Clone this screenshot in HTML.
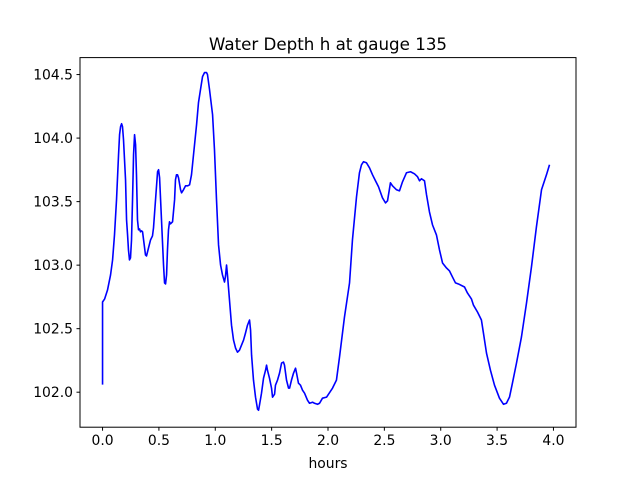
<!DOCTYPE html>
<html><head><meta charset="utf-8"><style>
body{margin:0;background:#fff;width:640px;height:480px;overflow:hidden}
svg{font-family:"DejaVu Sans","Liberation Sans",sans-serif}
</style></head><body>
<svg id="chart" width="640" height="480">
<rect x="0" y="0" width="640" height="480" fill="#fff"/>
<text x="328" y="50" text-anchor="middle" font-size="16.7">Water Depth h at gauge 135</text>
<g id="plot"></g>
<rect x="80" y="57.6" width="496" height="369.6" fill="none" stroke="#000" stroke-width="1"/>
<text x="328" y="468" text-anchor="middle" font-size="13.9">hours</text>
</svg>
<script>
const times=[0,0,.018,.044,.071,.089,.106,.124,.142,.151,.160,.169,.177,.186,.204,.213,.222,.230,.239,.248,.257,.266,.275,.284,.293,.301,.310,.319,.328,.337,.346,.355,.364,.381,.390,.408,.426,.443,.452,.470,.488,.497,.506,.523,.541,.550,.559,.568,.576,.585,.594,.603,.621,.639,.647,.656,.665,.674,.692,.701,.718,.736,.754,.772,.789,.807,.834,.851,.869,.887,.905,.922,.931,.949,.976,.993,1.011,1.029,1.047,1.064,1.082,1.091,1.100,1.109,1.126,1.144,1.162,1.180,1.197,1.215,1.233,1.251,1.268,1.286,1.304,1.313,1.322,1.339,1.357,1.375,1.384,1.392,1.410,1.428,1.437,1.446,1.455,1.463,1.481,1.499,1.508,1.526,1.534,1.552,1.570,1.588,1.605,1.614,1.632,1.650,1.659,1.676,1.694,1.712,1.721,1.738,1.756,1.774,1.792,1.818,1.836,1.863,1.880,1.907,1.925,1.951,1.987,2.040,2.075,2.102,2.146,2.191,2.217,2.253,2.279,2.297,2.315,2.341,2.368,2.395,2.421,2.448,2.483,2.510,2.528,2.554,2.572,2.608,2.634,2.661,2.696,2.732,2.767,2.794,2.812,2.829,2.856,2.874,2.900,2.927,2.962,2.989,3.016,3.051,3.078,3.104,3.131,3.157,3.211,3.237,3.273,3.290,3.326,3.361,3.379,3.406,3.441,3.477,3.521,3.557,3.583,3.610,3.636,3.672,3.716,3.761,3.805,3.849,3.894,3.938,3.965,4.0];
const depths=[102.06,102.71,102.733,102.804,102.923,103.041,103.238,103.514,103.869,104.027,104.09,104.113,104.09,103.987,103.672,103.356,103.238,103.12,103.041,103.057,103.199,103.514,103.869,104.027,103.948,103.711,103.356,103.278,103.285,103.262,103.27,103.262,103.199,103.08,103.072,103.136,103.199,103.23,103.293,103.514,103.735,103.751,103.688,103.356,103.001,102.86,102.852,102.923,103.12,103.278,103.341,103.325,103.341,103.514,103.672,103.711,103.711,103.688,103.593,103.569,103.593,103.624,103.624,103.632,103.711,103.869,104.105,104.279,104.382,104.484,104.516,104.516,104.5,104.382,104.184,103.908,103.514,103.159,103.001,102.923,102.867,102.915,103.001,102.915,102.726,102.528,102.41,102.347,102.315,102.331,102.371,102.41,102.465,102.528,102.568,102.489,102.292,102.095,101.961,101.866,101.858,101.897,101.992,102.11,102.142,102.173,102.213,102.173,102.11,102.032,101.961,101.984,102.055,102.095,102.150,102.229,102.237,102.213,102.095,102.032,102.032,102.095,102.150,102.189,102.150,102.071,102.055,102.016,101.992,101.937,101.913,101.921,101.913,101.905,101.913,101.953,101.961,102.032,102.095,102.276,102.591,102.86,103.199,103.538,103.727,103.79,103.814,103.806,103.766,103.711,103.664,103.617,103.53,103.49,103.506,103.648,103.624,103.593,103.585,103.656,103.727,103.735,103.719,103.696,103.664,103.68,103.664,103.554,103.419,103.317,103.238,103.12,103.017,102.978,102.954,102.907,102.86,102.852,102.828,102.781,102.733,102.686,102.631,102.568,102.465,102.308,102.173,102.055,101.953,101.905,101.913,101.961,102.071,102.229,102.434,102.702,102.986,103.301,103.593,103.711,103.79];
const xTicks=[0,0.5,1,1.5,2,2.5,3,3.5,4];
const xTickLabels=["0.0","0.5","1.0","1.5","2.0","2.5","3.0","3.5","4.0"];
const yTicks=[102,102.5,103,103.5,104,104.5];
const yTickLabels=["102.0","102.5","103.0","103.5","104.0","104.5"];
const X0=80,X1=576,Y0=427.2,Y1=57.6;
const xmin=-0.2,xmax=4.2,ymin=101.7245,ymax=104.6335;
function xs(v){return X0+(v-xmin)/(xmax-xmin)*(X1-X0);}
function ys(v){return Y0-(v-ymin)/(ymax-ymin)*(Y0-Y1);}
const NS="http://www.w3.org/2000/svg";
const svg=document.getElementById('chart');
const plot=document.getElementById('plot');
const line=document.createElementNS(NS,'polyline');


line.setAttribute('points',times.map((t,i)=>xs(t).toFixed(2)+','+ys(depths[i]).toFixed(2)).join(' '));
line.setAttribute('fill','none');line.setAttribute('stroke','#0000ff');line.setAttribute('stroke-width','1.6');line.setAttribute('stroke-linejoin','round');
plot.appendChild(line);
xTicks.forEach((v,i)=>{
 const t=document.createElementNS(NS,'line');
 
 
 t.setAttribute('x1',xs(v));t.setAttribute('x2',xs(v));t.setAttribute('y1',Y0);t.setAttribute('y2',Y0+3.5);t.setAttribute('stroke','#000');
 svg.appendChild(t);
 const l=document.createElementNS(NS,'text');
 
 
 l.setAttribute('x',xs(v));l.setAttribute('y',Y0+18);l.setAttribute('text-anchor','middle');l.setAttribute('font-size','13.9');
 l.textContent=xTickLabels[i];svg.appendChild(l);
});
yTicks.forEach((v,i)=>{
 const t=document.createElementNS(NS,'line');
 
 
 t.setAttribute('x1',X0-3.5);t.setAttribute('x2',X0);t.setAttribute('y1',ys(v));t.setAttribute('y2',ys(v));t.setAttribute('stroke','#000');
 svg.appendChild(t);
 const l=document.createElementNS(NS,'text');
 
 
 l.setAttribute('x',X0-7);l.setAttribute('y',ys(v)+5);l.setAttribute('text-anchor','end');l.setAttribute('font-size','13.9');
 l.textContent=yTickLabels[i];svg.appendChild(l);
});
</script>
</body></html>
